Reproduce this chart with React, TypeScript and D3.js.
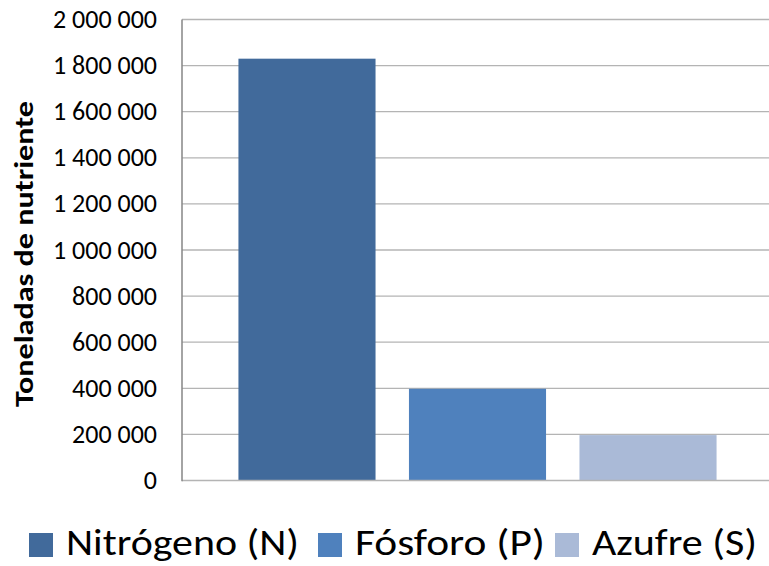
import React, { useEffect, useRef } from 'react';
import * as d3 from 'd3';

const series = ['Nitrógeno (N)', 'Fósforo (P)', 'Azufre (S)'];
const values = [1830000, 398000, 197000];
const colors = ['#416A9B', '#4F81BD', '#AABAD7'];
const yTicks = [0, 200000, 400000, 600000, 800000, 1000000, 1200000, 1400000, 1600000, 1800000, 2000000];
const yTitle = 'Toneladas de nutriente';

const width = 769;
const height = 566;
const font = 'Calibri, Carlito, "Liberation Sans", sans-serif';

export default function App() {
  const box = useRef<SVGSVGElement | null>(null);

  useEffect(() => {
    document.body.style.margin = '0';
    const svg = d3.select(box.current);
    svg.selectAll('*').remove();

    const x0 = 182;
    const x1 = 773;
    const y = d3.scaleLinear().domain([0, 2000000]).range([480.5, 19.5]);
    const x = d3.scaleBand<string>()
      .domain(series)
      .range([x0, x1])
      .paddingInner(0.196)
      .paddingOuter(0.331);

    const locale = d3.formatLocale({ decimal: ',', thousands: ' ', grouping: [3], currency: ['', ''] });
    const fmt = locale.format(',');

    // gridlines
    svg.append('g')
      .selectAll('line')
      .data(yTicks.filter(t => t > 0))
      .enter()
      .append('line')
      .attr('x1', x0)
      .attr('x2', width)
      .attr('y1', d => y(d))
      .attr('y2', d => y(d))
      .attr('stroke', '#b4b4b4')
      .attr('stroke-width', 1.3);

    // bars
    svg.append('g')
      .selectAll('rect')
      .data(values)
      .enter()
      .append('rect')
      .attr('x', (d, i) => x(series[i]) as number)
      .attr('width', x.bandwidth())
      .attr('y', d => y(d))
      .attr('height', d => y(0) - y(d))
      .attr('fill', (d, i) => colors[i]);

    // axis lines
    svg.append('line')
      .attr('x1', x0).attr('x2', width)
      .attr('y1', y(0)).attr('y2', y(0))
      .attr('stroke', '#b4b4b4').attr('stroke-width', 1.5);
    svg.append('line')
      .attr('x1', x0).attr('x2', x0)
      .attr('y1', y(2000000)).attr('y2', y(0) + 0.8)
      .attr('stroke', '#868686').attr('stroke-width', 1.5);

    // tick labels
    svg.append('g')
      .selectAll('text')
      .data(yTicks)
      .enter()
      .append('text')
      .attr('x', 157)
      .attr('y', d => y(d) + 8.5)
      .attr('text-anchor', 'end')
      .attr('font-family', font)
      .attr('font-size', 26)
      .attr('fill', '#000')
      .text(d => fmt(d));

    // y title
    svg.append('text')
      .attr('transform', `translate(33, ${(100 + 408) / 2}) rotate(-90)`)
      .attr('text-anchor', 'middle')
      .attr('font-family', font)
      .attr('font-weight', 'bold')
      .attr('font-size', 27)
      .attr('textLength', 306)
      .attr('lengthAdjust', 'spacingAndGlyphs')
      .attr('fill', '#000')
      .text(yTitle);

    // legend
    const legX = [29, 318, 555];
    const legLen = [233, 190, 165];
    const leg = svg.append('g');
    series.forEach((s, i) => {
      leg.append('rect')
        .attr('x', legX[i]).attr('y', 533)
        .attr('width', 24).attr('height', 24)
        .attr('fill', colors[i]);
      leg.append('text')
        .attr('x', legX[i] + 37)
        .attr('y', 555)
        .attr('font-family', font)
        .attr('font-size', 36)
        .attr('textLength', legLen[i])
        .attr('lengthAdjust', 'spacingAndGlyphs')
        .attr('fill', '#000')
        .text(s);
    });
  }, []);

  return (
    <svg ref={box} width={width} height={height} style={{ display: 'block', background: '#fff' }} />
  );
}
